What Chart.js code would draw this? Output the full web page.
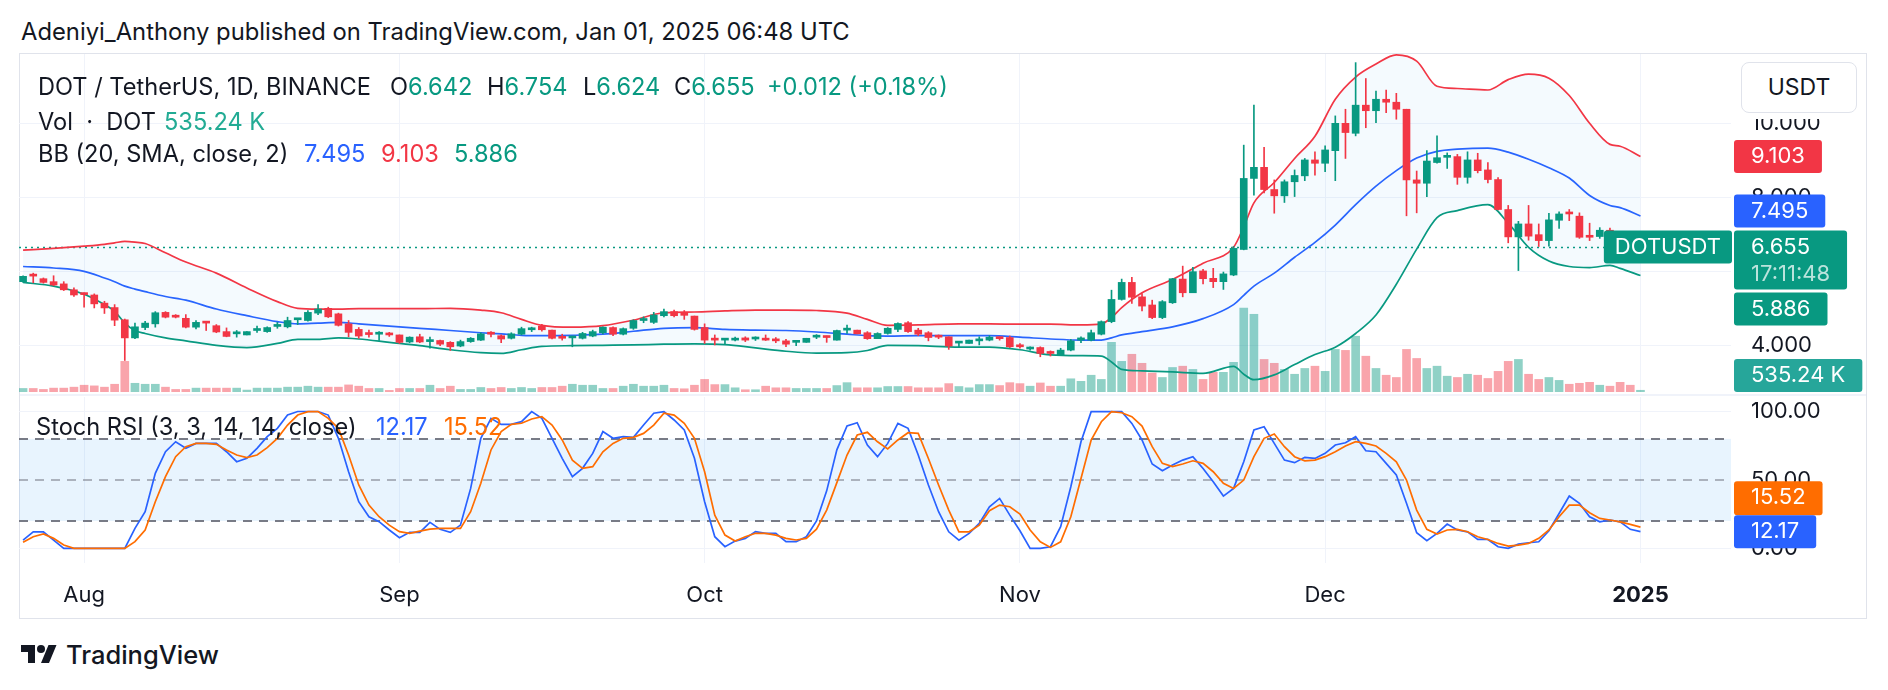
<!DOCTYPE html>
<html>
<head>
<meta charset="utf-8">
<title>DOT / TetherUS 1D</title>
<script src="https://cdn.jsdelivr.net/npm/chart.js@4.4.1/dist/chart.umd.min.js"></script>
<style>
  html, body { margin: 0; padding: 0; background: #fff; }
  body { width: 1888px; height: 690px; position: relative; overflow: hidden;
         font-family: Inter, 'Noto Sans', sans-serif; color: #131722; }
  .abs { position: absolute; white-space: pre; }
  #frame { left: 19px; top: 53px; width: 1848px; height: 566px; box-sizing: border-box; border: 1px solid #e0e3eb; }
  #sep { left: 20px; top: 394px; width: 1846px; height: 2px; background: #f0f3fa; }
  canvas { position: absolute; }
  .title { left: 21px; top: 17px; font-size: 23.8px; line-height: 30px; }
  .lg { font-size: 23.6px; line-height: 30px; }
  .g { color: #089981; } .r { color: #f23645; } .b { color: #2962ff; } .o { color: #ff6d00; } .v { color: #22ab94; }
  #usdtBack { left: 1734px; top: 56px; width: 132px; height: 63px; background: #fff; }
  #usdt { left: 1741px; top: 62px; width: 116px; height: 51px; box-sizing: border-box; border: 1px solid #e0e3eb;
          border-radius: 8px; background: #fff; font-size: 23px; line-height: 49px; text-align: center; }
  #logo { left: 21px; top: 645px; }
  .brand { left: 66px; top: 640px; font-size: 25.5px; line-height: 30px; font-weight: 500; }
</style>
</head>
<body>
<div class="abs title">Adeniyi_Anthony published on TradingView.com, Jan 01, 2025 06:48 UTC</div>
<div id="frame" class="abs"></div>
<canvas id="price" width="1848" height="341" style="left:19px;top:54px"></canvas>
<div id="sep" class="abs"></div>
<canvas id="stoch" width="1848" height="224" style="left:19px;top:395px"></canvas>

<div class="abs lg" style="left:38px;top:72px">DOT / TetherUS, 1D, BINANCE</div>
<div class="abs lg" style="left:390px;top:72px">O<span class="g">6.642</span></div>
<div class="abs lg" style="left:487px;top:72px">H<span class="g">6.754</span></div>
<div class="abs lg" style="left:583px;top:72px">L<span class="g">6.624</span></div>
<div class="abs lg" style="left:674px;top:72px">C<span class="g">6.655</span></div>
<div class="abs lg g" style="left:767px;top:72px">+0.012 (+0.18%)</div>
<div class="abs lg" style="left:38px;top:107px">Vol  ·  DOT</div>
<div class="abs lg v" style="left:164px;top:107px">535.24 K</div>
<div class="abs lg" style="left:38px;top:139px">BB (20, SMA, close, 2)</div>
<div class="abs lg b" style="left:304px;top:139px">7.495</div>
<div class="abs lg r" style="left:381px;top:139px">9.103</div>
<div class="abs lg g" style="left:454px;top:139px">5.886</div>
<div class="abs lg" style="left:36px;top:412px">Stoch RSI (3, 3, 14, 14, close)</div>
<div class="abs lg b" style="left:376px;top:412px">12.17</div>
<div class="abs lg o" style="left:444px;top:412px">15.52</div>
<div id="usdtBack" class="abs"></div>
<div id="usdt" class="abs">USDT</div>

<svg id="logo" class="abs" width="36" height="18" viewBox="0 4 36 18">
  <path d="M14 22H7V11H0V4h14v18zM28 22h-8l7.5-18h8L28 22z" fill="#131722"/>
  <circle cx="20" cy="8" r="4" fill="#131722"/>
</svg>
<div class="abs brand">TradingView</div>

<script>
// daily candles, 2024-07-26 .. 2025-01-01 (index 0 = Jul 26)
const open = [
  5.72, 5.89, 5.80, 5.72, 5.66, 5.50,
  5.40, 5.36, 5.14, 5.02, 4.69, 4.20, 4.48, 4.58, 4.89, 4.80,
  4.73, 4.49, 4.62, 4.53, 4.37, 4.31, 4.28, 4.40, 4.37, 4.51,
  4.50, 4.69, 4.67, 4.87, 5.00, 4.85, 4.58, 4.43, 4.32, 4.30,
  4.31, 4.28, 4.09, 4.23, 4.10, 4.13, 4.08, 3.98, 4.10, 4.14,
  4.34, 4.26, 4.19, 4.30, 4.42, 4.52, 4.41, 4.23, 4.20, 4.19,
  4.25, 4.34, 4.48, 4.30, 4.46, 4.67, 4.62, 4.80, 4.91, 4.84,
  4.79, 4.48, 4.19, 4.14, 4.14, 4.20, 4.17, 4.19, 4.16, 4.12,
  4.08, 4.08, 4.22, 4.25, 4.14, 4.41, 4.41, 4.34, 4.18, 4.32,
  4.43, 4.61, 4.41, 4.34, 4.25, 4.23, 4.06, 4.05, 4.12, 4.14,
  4.23, 4.21, 4.01, 3.90, 3.94, 3.83, 3.74, 3.87, 4.14, 4.14,
  4.30, 4.64, 5.24, 5.70, 5.31, 5.09, 4.75, 5.15, 5.79, 5.42,
  6.01, 5.81, 5.72, 5.90, 6.59, 8.51, 8.81, 8.21, 8.04, 8.42,
  8.58, 9.01, 8.92, 9.26, 10.00, 9.73, 10.49, 10.34, 10.65, 10.57,
  10.38, 8.47, 8.38, 8.94, 9.08, 9.10, 8.54, 9.01, 8.74, 8.48,
  7.67, 6.93, 7.28, 6.99, 6.83, 7.38, 7.58, 7.49, 6.95, 6.94,
  7.11, 7.00, 6.75, 6.642
];
const high = [
  5.88, 5.95, 5.82, 5.88, 5.72, 5.55,
  5.42, 5.39, 5.19, 5.10, 4.71, 4.60, 4.65, 4.91, 4.91, 4.83,
  4.83, 4.67, 4.63, 4.56, 4.47, 4.40, 4.37, 4.52, 4.50, 4.62,
  4.76, 4.72, 4.94, 5.10, 5.03, 4.87, 4.67, 4.48, 4.41, 4.37,
  4.35, 4.28, 4.23, 4.30, 4.22, 4.14, 4.10, 4.14, 4.21, 4.34,
  4.37, 4.28, 4.34, 4.49, 4.49, 4.57, 4.41, 4.30, 4.23, 4.35,
  4.41, 4.50, 4.50, 4.47, 4.69, 4.77, 4.89, 4.98, 4.95, 4.94,
  4.79, 4.58, 4.28, 4.19, 4.22, 4.23, 4.23, 4.28, 4.21, 4.16,
  4.11, 4.19, 4.29, 4.25, 4.41, 4.55, 4.41, 4.37, 4.34, 4.48,
  4.61, 4.64, 4.46, 4.37, 4.28, 4.23, 4.08, 4.14, 4.23, 4.26,
  4.23, 4.25, 4.05, 3.96, 3.96, 3.85, 3.92, 4.16, 4.23, 4.41,
  4.66, 5.49, 5.79, 5.84, 5.40, 5.22, 5.21, 5.81, 6.14, 6.11,
  6.05, 6.08, 5.98, 6.67, 9.41, 10.49, 9.35, 8.47, 8.47, 8.74,
  9.05, 9.23, 9.39, 10.20, 10.38, 11.64, 11.21, 10.87, 10.90, 10.81,
  10.38, 8.71, 9.26, 9.66, 9.20, 9.16, 9.23, 9.19, 8.94, 8.53,
  7.78, 7.35, 7.78, 7.28, 7.57, 7.61, 7.67, 7.58, 7.30, 7.18,
  7.17, 7.05, 6.85, 6.754
];
const low = [
  5.70, 5.69, 5.68, 5.61, 5.48, 5.32,
  5.03, 5.01, 4.86, 4.53, 3.59, 4.18, 4.42, 4.49, 4.74, 4.74,
  4.47, 4.44, 4.40, 4.34, 4.23, 4.22, 4.28, 4.35, 4.35, 4.46,
  4.47, 4.56, 4.65, 4.83, 4.75, 4.52, 4.23, 4.19, 4.22, 4.13,
  4.24, 4.05, 4.07, 4.07, 3.92, 3.99, 3.86, 3.96, 4.08, 4.13,
  4.23, 4.07, 4.17, 4.28, 4.37, 4.38, 4.17, 4.14, 3.96, 4.17,
  4.23, 4.31, 4.26, 4.28, 4.43, 4.61, 4.59, 4.77, 4.77, 4.70,
  4.41, 4.05, 4.01, 4.03, 4.12, 4.10, 4.13, 4.13, 4.07, 3.96,
  3.99, 4.08, 4.18, 4.08, 4.14, 4.32, 4.31, 4.16, 4.18, 4.30,
  4.37, 4.35, 4.26, 4.12, 4.18, 3.89, 3.95, 4.05, 4.01, 4.12,
  4.14, 3.94, 3.92, 3.87, 3.69, 3.71, 3.74, 3.85, 4.07, 4.12,
  4.28, 4.61, 5.22, 5.13, 4.93, 4.72, 4.72, 5.13, 5.31, 5.42,
  5.66, 5.56, 5.51, 5.88, 6.58, 8.06, 8.12, 7.57, 7.86, 8.02,
  8.45, 8.60, 8.69, 8.45, 9.05, 9.66, 9.88, 10.02, 10.29, 10.11,
  7.50, 7.58, 8.02, 8.92, 8.78, 8.35, 8.38, 8.66, 8.39, 7.66,
  6.77, 6.02, 6.84, 6.67, 6.68, 7.16, 7.37, 6.89, 6.83, 6.89,
  6.95, 6.68, 6.58, 6.624
];
const close = [
  5.865, 5.87, 5.70, 5.63, 5.50, 5.36,
  5.37, 5.12, 5.01, 4.68, 4.20, 4.50, 4.60, 4.88, 4.76, 4.76,
  4.49, 4.62, 4.60, 4.36, 4.24, 4.33, 4.37, 4.43, 4.48, 4.56,
  4.67, 4.71, 4.89, 4.98, 4.77, 4.54, 4.35, 4.25, 4.29, 4.34,
  4.28, 4.08, 4.22, 4.09, 4.14, 4.03, 3.96, 4.10, 4.19, 4.31,
  4.30, 4.17, 4.31, 4.45, 4.44, 4.42, 4.19, 4.19, 4.22, 4.32,
  4.37, 4.49, 4.30, 4.45, 4.67, 4.70, 4.82, 4.91, 4.80, 4.81,
  4.43, 4.14, 4.14, 4.17, 4.19, 4.14, 4.20, 4.14, 4.12, 4.03,
  4.10, 4.19, 4.25, 4.21, 4.40, 4.43, 4.31, 4.18, 4.32, 4.46,
  4.59, 4.37, 4.30, 4.21, 4.22, 3.98, 4.08, 4.14, 4.14, 4.22,
  4.18, 3.96, 3.96, 3.94, 3.78, 3.78, 3.87, 4.12, 4.20, 4.34,
  4.64, 5.24, 5.70, 5.30, 5.06, 4.75, 5.18, 5.80, 5.42, 5.99,
  5.80, 5.72, 5.93, 6.62, 8.51, 8.81, 8.21, 8.04, 8.42, 8.59,
  9.01, 8.92, 9.28, 10.00, 9.75, 10.49, 10.34, 10.65, 10.57, 10.38,
  8.47, 8.38, 8.98, 9.07, 9.11, 8.54, 9.01, 8.72, 8.48, 7.67,
  6.93, 7.28, 6.95, 6.83, 7.39, 7.55, 7.55, 6.92, 6.92, 7.11,
  7.00, 6.75, 6.642, 6.655
];
// volume, millions of DOT
const volume = [
  1.1, 1.1, 0.8, 1.2, 1.2, 1.5,
  2.1, 1.9, 1.5, 2.4, 9.5, 2.7, 2.4, 2.4, 1.5, 0.8,
  0.8, 1.2, 1.2, 1.2, 1.2, 1.2, 0.6, 1.2, 1.2, 1.2,
  1.5, 1.5, 1.8, 1.5, 1.5, 1.5, 2.2, 1.8, 1.1, 1.1,
  0.5, 1.1, 1.1, 1.1, 2.1, 1.1, 1.8, 0.8, 0.8, 1.4,
  1.1, 1.4, 1.1, 1.4, 1.1, 1.4, 1.4, 1.8, 2.4, 2.1,
  2.1, 1.1, 1.1, 1.8, 2.4, 1.8, 1.8, 2.1, 1.1, 1.0,
  2.1, 3.9, 2.3, 2.3, 1.3, 0.7, 0.7, 1.8, 1.3, 1.3,
  1.1, 1.1, 1.1, 1.1, 2.0, 2.9, 1.3, 1.3, 1.3, 1.7,
  1.7, 1.7, 1.3, 1.3, 1.3, 2.6, 1.7, 1.3, 2.3, 2.3,
  2.0, 2.9, 2.6, 1.8, 2.8, 1.8, 1.8, 4.1, 3.3, 5.2,
  3.9, 15.4, 9.5, 11.7, 8.9, 5.9, 4.5, 7.6, 8.0, 7.0,
  3.9, 6.1, 6.1, 9.2, 26.0, 24.1, 10.1, 8.9, 7.0, 5.5,
  7.3, 8.0, 6.4, 13.2, 12.9, 17.3, 11.1, 7.3, 5.2, 4.5,
  13.2, 10.4, 7.3, 8.0, 4.9, 4.5, 5.5, 5.2, 4.2, 6.4,
  9.5, 10.1, 5.5, 3.9, 4.5, 3.6, 2.4, 2.7, 3.0, 2.1,
  1.8, 3.0, 2.1, 0.535
];

// Bollinger Bands (20, 2) at these candle indices
const bbIdx = [0, 3, 6, 8, 9, 10, 11, 12, 14, 16, 19, 22, 25, 27, 29, 31, 33, 36, 39, 42,
  45, 47, 49, 51, 54, 57, 60, 63, 66, 69, 72, 75, 78, 81, 83, 85, 88, 92, 95, 98,
  101, 104, 106, 107, 108, 110, 113, 116, 119, 120, 121, 123, 125, 127, 129, 131, 133, 135, 137, 139,
  141, 144, 146, 148, 150, 152, 154, 156, 157, 159];
const bbUpper = [6.57, 6.62, 6.68, 6.73, 6.77, 6.81, 6.79, 6.75, 6.50, 6.25, 5.95, 5.55, 5.18, 5.00, 4.98, 4.98, 4.99, 4.99, 4.99, 5.00,
  4.95, 4.88, 4.70, 4.54, 4.49, 4.53, 4.68, 4.88, 4.90, 4.93, 4.95, 4.95, 4.94, 4.87, 4.70, 4.54, 4.55, 4.58, 4.58, 4.57,
  4.57, 4.55, 4.58, 4.75, 5.02, 5.42, 5.78, 6.22, 6.65, 7.20, 7.85, 8.40, 9.05, 9.65, 10.65, 11.25, 11.60, 11.85, 11.68, 11.00,
  10.94, 10.90, 11.18, 11.33, 11.22, 10.75, 10.00, 9.43, 9.38, 9.103];
const bbBasis = [6.13, 6.09, 6.00, 5.82, 5.72, 5.60, 5.52, 5.45, 5.32, 5.22, 4.98, 4.80, 4.64, 4.58, 4.60, 4.62, 4.58, 4.52, 4.46, 4.40,
  4.34, 4.31, 4.27, 4.26, 4.27, 4.30, 4.38, 4.46, 4.48, 4.43, 4.41, 4.40, 4.36, 4.30, 4.26, 4.25, 4.26, 4.26, 4.26, 4.22,
  4.17, 4.14, 4.14, 4.20, 4.28, 4.37, 4.50, 4.72, 5.10, 5.35, 5.60, 5.95, 6.38, 6.78, 7.25, 7.80, 8.30, 8.72, 9.06, 9.24,
  9.30, 9.33, 9.22, 9.03, 8.80, 8.52, 8.05, 7.78, 7.72, 7.495];
const bbLower = [5.70, 5.60, 5.38, 5.10, 4.92, 4.60, 4.40, 4.32, 4.20, 4.12, 4.00, 3.94, 4.05, 4.16, 4.16, 4.20, 4.17, 4.08, 3.99, 3.88,
  3.80, 3.78, 3.88, 3.97, 3.99, 4.00, 4.01, 4.03, 4.04, 4.02, 3.93, 3.84, 3.79, 3.80, 3.86, 4.00, 3.99, 3.95, 3.95, 3.88,
  3.74, 3.72, 3.71, 3.55, 3.35, 3.31, 3.28, 3.24, 3.43, 3.22, 3.07, 3.20, 3.48, 3.75, 3.95, 4.32, 4.82, 5.65, 6.60, 7.45,
  7.64, 7.80, 7.30, 6.65, 6.28, 6.13, 6.10, 6.16, 6.08, 5.886];

// Stoch RSI (3, 3, 14, 14)
const stochK = [
  6, 12, 12, 6, 0, 0,
  0, 0, 0, 0, 0, 14.6, 26.8, 54.8, 70.6, 77.9,
  73.1, 76.7, 76.7, 76.7, 70.6, 63.3, 65.8, 73.1, 81.6, 87.7,
  97.4, 100, 100, 100, 97.4, 80.4, 56, 34.1, 23.1, 19.5,
  13.4, 7.8, 11.7, 11.7, 19, 13.9, 11.7, 17, 43.8, 80.4,
  95, 90.6, 90.6, 92.6, 99.9, 95, 80.4, 65.8, 52.4, 58.5,
  69.4, 85.3, 80.4, 81.6, 81.1, 90.1, 98.7, 99.9, 93.8, 86.5,
  65.8, 34.1, 8.5, 1.2, 5.3, 7.3, 12.2, 11, 11, 4.9,
  4.9, 8.5, 20, 42, 72, 89.4, 91.8, 75.5, 67, 76.7,
  91.3, 87.7, 68.2, 46.3, 26.8, 12.1, 6, 10.9, 18.2, 30.4,
  36.5, 24.3, 12.9, 0, 0, 1.2, 15.8, 45, 77.9, 99.9,
  99.9, 99.9, 99.9, 91.3, 79.2, 61.6, 56.7, 60.9, 64.5, 67,
  58.4, 48.7, 38.2, 43.8, 63.3, 86.5, 88.9, 76.7, 64.5, 62.6,
  66.5, 65.7, 69.4, 75.5, 77.2, 81.6, 71.3, 70.6, 62.1, 53.6,
  32.9, 11.4, 5.6, 10.9, 17.7, 13.4, 12.1, 6.5, 6.5, 1.2,
  0, 3.1, 4.1, 4.8, 12.9, 25.5, 38.2, 32.9, 23.1, 19.4,
  20.7, 19.4, 13.9, 12.17
];
const stochD = [
  4.4, 8.5, 10.5, 7.3, 2.4, 0,
  0, 0, 0, 0, 0, 4.9, 13.4, 34.1, 52.4, 67,
  74.3, 76.7, 76.7, 76, 71.9, 68.2, 66.3, 68.2, 73.6, 80.4,
  90.1, 97.4, 99.9, 99.9, 95, 87.7, 68.2, 46.3, 31.6, 23.1,
  17, 12.2, 11, 12.6, 14.1, 14.6, 14.6, 14.6, 26.8, 47.5,
  71.9, 85.3, 90.6, 91.4, 94.5, 96.2, 90.1, 79.2, 64.5, 58.5,
  59.7, 70.6, 76.7, 80.4, 81.1, 84, 90.1, 98.7, 97.4, 91.4,
  80.4, 56, 24.3, 9.7, 5.3, 8.5, 11, 11, 9.7, 7.3,
  6.1, 7.3, 14, 28, 48, 68.2, 82.8, 84.8, 77.9, 72.6,
  79.2, 84.5, 84, 65.7, 46.3, 28, 12, 12.1, 17, 27.5,
  31.6, 30.4, 25.1, 13.4, 4.8, 0.7, 4.8, 23.1, 51.1, 79.2,
  92.5, 99.9, 99.1, 96.2, 89.4, 74.3, 62.1, 59.7, 61.6, 64,
  62.1, 56, 47.5, 43.8, 49.9, 67, 80.4, 83.5, 74.3, 67,
  64, 64.5, 67, 70.6, 74.8, 77.9, 76.7, 74.8, 69.4, 63.3,
  49.9, 28, 13.9, 10.4, 13.4, 13.9, 12.1, 8.5, 6.5, 3.6,
  1.7, 2.4, 3.6, 7.3, 13.4, 23.1, 31.6, 31.6, 26, 21.9,
  20.7, 19.4, 17.5, 15.52
];

// time axis: candle index of each month start
const monthTicks = [6, 37, 67, 98, 128, 159];
const monthLabels = ['Aug', 'Sep', 'Oct', 'Nov', 'Dec', '2025'];
const priceTicks = [4, 6, 8, 10];
const stochTicks = [0, 50, 100];
const stochBands = [80, 50, 20];
const volLabel = '535.24 K';
const timerLabel = '17:11:48';

const gridColor = '#f0f3fa';
const textColor = '#131722';
const upColor = '#089981';
const downColor = '#f23645';
const volUp = 'rgba(8,153,129,0.45)';
const volDown = 'rgba(242,54,69,0.45)';
const axisFont = { family: 'Inter', size: 22 };
const last = close.length - 1;

const isUp = close.map((c, i) => c >= open[i]);
const candleColors = isUp.map(u => u ? upColor : downColor);

function xScale(labels) {
    return {
        type: 'linear', min: -0.4, max: 167.9, offset: false,
        afterBuildTicks: s => { s.ticks = monthTicks.map(v => ({ value: v })); },
        grid: { color: gridColor, drawTicks: false, offset: false },
        border: { display: false },
        ticks: {
            display: labels, autoSkip: false, maxRotation: 0, padding: 19, color: textColor,
            font: c => ({ family: 'Inter', size: 22, weight: c.tick && c.tick.value === monthTicks[monthTicks.length - 1] ? 'bold' : 'normal' }),
            callback: v => monthLabels[monthTicks.indexOf(v)],
        },
        afterFit: s => { s.height = labels ? 56 : 0; s.paddingLeft = 0; s.paddingRight = 0; },
    };
}

function rightScale(min, max, ticks, digits) {
    return {
        position: 'right', min, max,
        afterBuildTicks: s => { s.ticks = ticks.map(v => ({ value: v })); },
        grid: { color: gridColor, drawTicks: false },
        border: { display: false },
        ticks: { padding: 20, color: textColor, font: axisFont, callback: v => v.toFixed(digits) },
        // fixed width, and no extra room for the end labels
        afterFit: s => { s.width = 136; s.paddingTop = 0; s.paddingBottom = 0; },
    };
}

function drawTag(ctx, x, top, h, bg, rows, padX, alignRight) {
    const w = Math.max(...rows.map(r => ctx.measureText(r.text).width)) + padX * 2;
    const left = alignRight ? x - w : x;
    ctx.fillStyle = bg;
    ctx.beginPath();
    ctx.roundRect(left, top, w, h, 3);
    ctx.fill();
    rows.forEach(r => {
        ctx.fillStyle = r.color || '#fff';
        ctx.fillText(r.text, left + padX, top + r.dy);
    });
}

const priceTags = {
    id: 'priceTags',
    beforeDatasetsDraw(chart) {
        const { ctx, chartArea: a, scales } = chart;
        const y = Math.round(scales.y.getPixelForValue(close[last])) + 0.5;
        ctx.save();
        ctx.strokeStyle = upColor;
        ctx.lineWidth = 1.5;
        ctx.setLineDash([2, 4]);
        ctx.beginPath();
        ctx.moveTo(a.left, y);
        ctx.lineTo(a.right, y);
        ctx.stroke();
        ctx.restore();
    },
    afterDraw(chart) {
        const { ctx, chartArea: a, scales } = chart;
        const h = 33, x = a.right + 3, y = scales.y;
        ctx.save();
        ctx.font = '22px Inter';
        ctx.textBaseline = 'middle';
        const pTop = y.getPixelForValue(close[last]) - h / 2;
        const pBot = pTop + 59;
        // upper band
        drawTag(ctx, x, y.getPixelForValue(bbUpper[bbUpper.length - 1]) - h / 2, h, downColor,
            [{ text: bbUpper[bbUpper.length - 1].toFixed(3), dy: h / 2 }], 17);
        // basis
        const bTop = Math.min(y.getPixelForValue(bbBasis[bbBasis.length - 1]) + h / 2, pTop - 3) - h;
        drawTag(ctx, x, bTop, h, '#2962ff', [{ text: bbBasis[bbBasis.length - 1].toFixed(3), dy: h / 2 }], 17);
        // last price + countdown
        drawTag(ctx, x, pTop, 59, upColor, [
            { text: close[last].toFixed(3), dy: 16.5 },
            { text: timerLabel, dy: 44, color: 'rgba(255,255,255,0.72)' }], 17);
        drawTag(ctx, a.right + 1, pTop, h, upColor, [{ text: 'DOTUSDT', dy: h / 2 }], 11, true);
        // lower band
        const lTop = Math.max(y.getPixelForValue(bbLower[bbLower.length - 1]) - h / 2, pBot + 3);
        drawTag(ctx, x, lTop, h, upColor, [{ text: bbLower[bbLower.length - 1].toFixed(3), dy: h / 2 }], 17);
        // volume
        const vc = Math.min(scales.yVol.getPixelForValue(volume[last]), a.bottom - h / 2);
        drawTag(ctx, x, vc - h / 2, h, '#26a69a', [{ text: volLabel, dy: h / 2 }], 17);
        ctx.restore();
    },
};

const stochBand = {
    id: 'stochBand',
    beforeDatasetsDraw(chart) {
        const { ctx, chartArea: a, scales } = chart;
        const y = scales.y;
        const top = y.getPixelForValue(stochBands[0]);
        const bot = y.getPixelForValue(stochBands[2]);
        ctx.save();
        ctx.fillStyle = 'rgba(33,150,243,0.1)';
        ctx.fillRect(a.left, top, a.right - a.left, bot - top);
        ctx.lineWidth = 2;
        ctx.setLineDash([9, 7]);
        stochBands.forEach(v => {
            const py = Math.round(y.getPixelForValue(v));
            ctx.strokeStyle = v === 50 ? 'rgba(120,123,134,0.55)' : '#787b86';
            ctx.beginPath();
            ctx.moveTo(a.left, py);
            ctx.lineTo(a.right, py);
            ctx.stroke();
        });
        ctx.restore();
    },
    afterDraw(chart) {
        const { ctx, chartArea: a, scales } = chart;
        const h = 33, x = a.right + 3;
        ctx.save();
        ctx.font = '22px Inter';
        ctx.textBaseline = 'middle';
        const kTop = scales.y.getPixelForValue(stochK[last]) - h / 2;
        drawTag(ctx, x, kTop - h - 1, h + 1, '#ff6d00', [{ text: stochD[last].toFixed(2), dy: h / 2 }], 17);
        drawTag(ctx, x, kTop, h, '#2962ff', [{ text: stochK[last].toFixed(2), dy: h / 2 }], 17);
        ctx.restore();
    },
};

const baseOptions = {
    responsive: false,
    animation: false,
    devicePixelRatio: 1,
    events: [],
    plugins: { legend: { display: false }, tooltip: { enabled: false } },
};

const lineStyle = (color) => ({
    type: 'line', borderColor: color, borderWidth: 1.7, pointRadius: 0,
    cubicInterpolationMode: 'monotone', order: 5,
});

new Chart(document.getElementById('price'), {
    type: 'bar',
    data: {
        datasets: [
            {
                label: 'Volume', yAxisID: 'yVol', order: 10, grouped: false, barThickness: 8,
                data: volume.map((v, i) => ({ x: i, y: v })),
                backgroundColor: isUp.map(u => u ? volUp : volDown),
            },
            { ...lineStyle(upColor), label: 'BB lower', data: bbIdx.map((x, k) => ({ x, y: bbLower[k] })) },
            {
                ...lineStyle(downColor), label: 'BB upper', data: bbIdx.map((x, k) => ({ x, y: bbUpper[k] })),
                fill: { target: 1, above: 'rgba(33,150,243,0.05)', below: 'rgba(33,150,243,0.05)' },
            },
            { ...lineStyle('#2962ff'), label: 'BB basis', data: bbIdx.map((x, k) => ({ x, y: bbBasis[k] })) },
            {
                label: 'Wicks', order: 2, grouped: false, barThickness: 1,
                data: low.map((l, i) => ({ x: i, y: [l, high[i]] })),
                backgroundColor: candleColors,
            },
            {
                label: 'Bodies', order: 1, grouped: false, barThickness: 7, minBarLength: 2,
                data: open.map((o, i) => ({ x: i, y: [o, close[i]] })),
                backgroundColor: candleColors,
            },
        ],
    },
    options: {
        ...baseOptions,
        layout: { padding: { top: 0, bottom: 3, left: 0, right: 0 } },
        scales: {
            x: xScale(false),
            y: rightScale(2.738, 11.873, priceTicks, 3),
            yVol: { display: false, min: 0, max: 104.8 },
        },
    },
    plugins: [priceTags],
});

new Chart(document.getElementById('stoch'), {
    type: 'line',
    data: {
        datasets: [
            { label: 'K', data: stochK.map((v, i) => ({ x: i, y: v })), borderColor: '#2962ff', borderWidth: 1.7, pointRadius: 0, order: 2 },
            { label: 'D', data: stochD.map((v, i) => ({ x: i, y: v })), borderColor: '#ff6d00', borderWidth: 1.7, pointRadius: 0, order: 1 },
        ],
    },
    options: {
        ...baseOptions,
        layout: { padding: { top: 2, bottom: 0, left: 0, right: 0 } },
        scales: {
            x: xScale(true),
            y: {
                ...rightScale(-10.7, 110.6, stochTicks, 2),
                grid: { color: c => (c.tick && c.tick.value === 50 ? 'rgba(0,0,0,0)' : gridColor), drawTicks: false },
            },
        },
    },
    plugins: [stochBand],
});
</script>
</body>
</html>
